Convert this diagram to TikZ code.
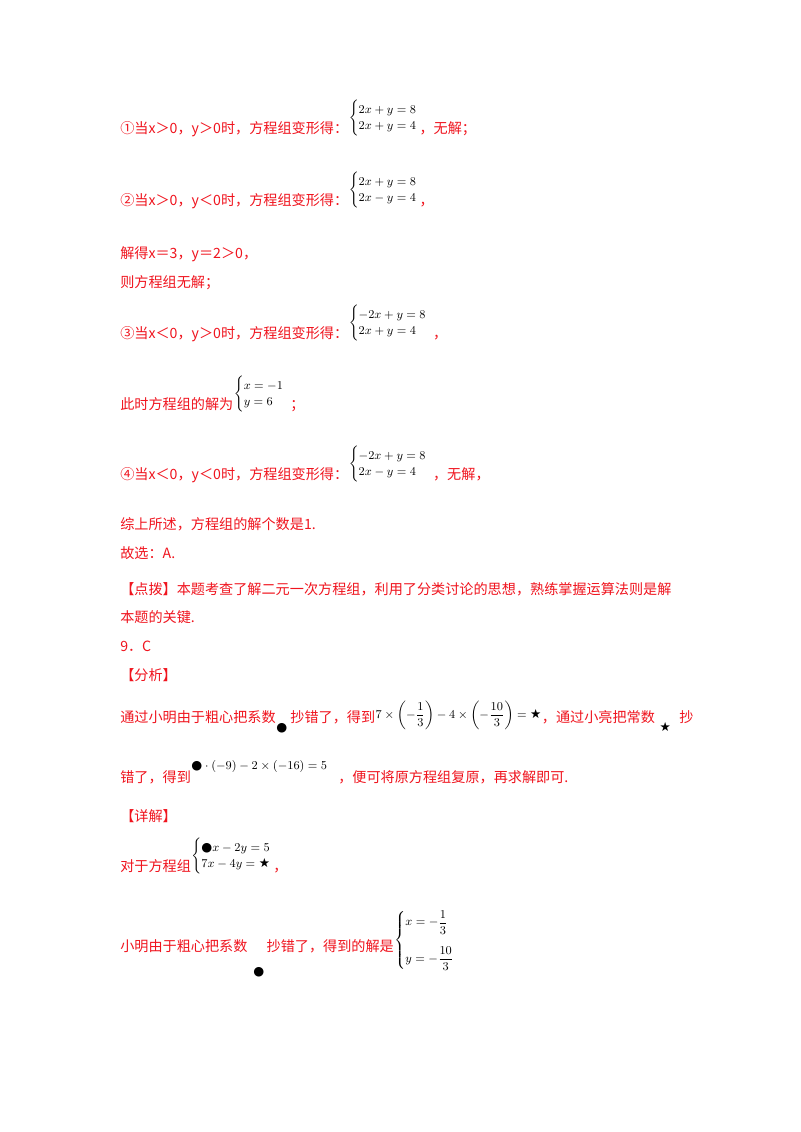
\documentclass[tikz,border=0pt]{standalone}
\usepackage{amsmath}
\usepackage{fontspec}
\setmainfont{Liberation Serif}
\newfontfamily\cjk{Noto Sans CJK SC}
\newfontfamily\djsym{DejaVu Sans}
\definecolor{rd}{RGB}{240,20,30}
\newcommand{\bdot}{\text{\djsym\char"25CF}}
\newcommand{\bstar}{\text{\djsym\char"2605}}
\newcommand{\sys}[2]{\left\{\begin{array}{@{}l@{}}#1\\#2\end{array}\right.}
\begin{document}
\begin{tikzpicture}[x=0.75pt,y=-0.75pt,
 t/.style={anchor=base west,inner sep=0pt,text=rd,font=\cjk\fontsize{10.6}{13}\selectfont},
 m/.style={anchor=west,inner sep=0pt,font=\fontsize{9.4}{12}\selectfont}]
\useasboundingbox[fill=white] (0,0) rectangle (800,1132);
\node[t] (l1) at (120,133) {①当x＞0，y＞0时，方程组变形得：};
\node[m] (s1) at ([yshift=11pt]l1.base east) {$\sys{2x+y=8}{2x+y=4}$};
\node[t] (l1b) at ([xshift=1pt]s1.east |- l1.base) {，无解；};
\node[t] (l2) at (120,205) {②当x＞0，y＜0时，方程组变形得：};
\node[m] (s2) at ([yshift=11pt]l2.base east) {$\sys{2x+y=8}{2x-y=4}$};
\node[t] (l2b) at ([xshift=1pt]s2.east |- l2.base) {，};
\node[t] (l3) at (120,258) {解得x＝3，y＝2＞0，};
\node[t] (l4) at (120,287) {则方程组无解；};
\node[t] (l5) at (120,338) {③当x＜0，y＞0时，方程组变形得：};
\node[m] (s3) at ([yshift=11pt]l5.base east) {$\sys{-2x+y=8}{2x+y=4}$};
\node[t] (l5b) at ([xshift=4pt]s3.east |- l5.base) {，};
\node[t] (l6) at (120,409) {此时方程组的解为};
\node[m] (s4) at ([yshift=11pt]l6.base east) {$\sys{x=-1}{y=6}$};
\node[t] (l6b) at ([xshift=4pt]s4.east |- l6.base) {；};
\node[t] (l7) at (120,479) {④当x＜0，y＜0时，方程组变形得：};
\node[m] (s5) at ([yshift=11pt]l7.base east) {$\sys{-2x+y=8}{2x-y=4}$};
\node[t] (l7b) at ([xshift=4pt]s5.east |- l7.base) {，无解，};
\node[t] (l8) at (120,529) {综上所述，方程组的解个数是1.};
\node[t] (l9) at (120,558) {故选：A.};
\node[t] (l10) at (120,594) {【点拨】本题考查了解二元一次方程组，利用了分类讨论的思想，熟练掌握运算法则是解};
\node[t] (l11) at (120,622) {本题的关键.};
\node[t] (l12) at (120,651) {9．C};
\node[t] (l13) at (120,680) {【分析】};
\node[t] (l14) at (120,722) {通过小明由于粗心把系数};
\node[m] (d1) at ([yshift=-5pt]l14.base east) {$\bdot$};
\node[t] (l14b) at ([xshift=2pt]d1.east |- l14.base) {抄错了，得到};
\node[m] (e1) at ([yshift=5pt]l14b.base east) {$7\times\left(-\dfrac{1}{3}\right)-4\times\left(-\dfrac{10}{3}\right)=\bstar$};
\node[t] (l14c) at (e1.east |- l14.base) {，通过小亮把常数};
\node[m] (st1) at ([xshift=3pt,yshift=-4pt]l14c.base east) {$\bstar$};
\node[t] (l14d) at ([xshift=6pt]st1.east |- l14.base) {抄};
\node[t] (l15) at (120,782) {错了，得到};
\node[m] (e2) at ([yshift=12pt]l15.base east) {$\bdot\cdot(-9)-2\times(-16)=5$};
\node[t] (l15b) at ([xshift=8pt]e2.east |- l15.base) {，便可将原方程组复原，再求解即可.};
\node[t] (l16) at (120,821) {【详解】};
\node[t] (l17) at (120,871) {对于方程组};
\node[m] (s6) at ([yshift=11pt]l17.base east) {$\sys{\bdot x-2y=5}{7x-4y=\bstar}$};
\node[t] (l17b) at ([xshift=1pt]s6.east |- l17.base) {，};
\node[t] (l18) at (120,951) {小明由于粗心把系数};
\node[m] (d2) at ([xshift=4pt,yshift=-16pt]l18.base east) {$\bdot$};
\node[t] (l18c) at ([xshift=14pt]l18.base east) {抄错了，得到的解是};
\node[m] (s7) at ([yshift=8pt]l18c.base east) {$\left\{\begin{array}{@{}l@{}}x=-\dfrac{1}{3}\\[12pt] y=-\dfrac{10}{3}\end{array}\right.$};
\end{tikzpicture}
\end{document}
